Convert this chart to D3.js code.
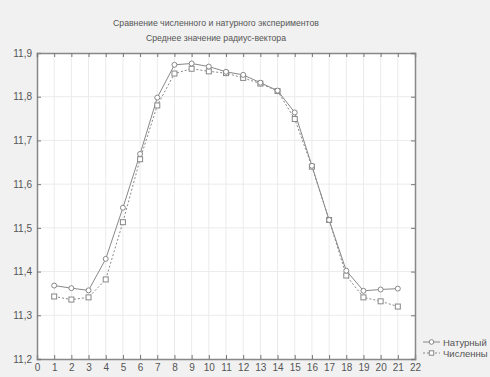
<!DOCTYPE html>
<head>
<meta charset="utf-8">
<style>
  body { margin: 0; background: #f1f1f1; }
  svg { display: block; font-family: Arial, "Liberation Sans", sans-serif; }
</style>
</head>
<body>
<div id="chart"></div>
<script src="https://cdnjs.cloudflare.com/ajax/libs/d3/7.8.5/d3.min.js"></script>
<script>
var xValues = [1, 2, 3, 4, 5, 6, 7, 8, 9, 10, 11, 12, 13, 14, 15, 16, 17, 18, 19, 20, 21];
var naturalValues = [11.368, 11.362, 11.357, 11.429, 11.546, 11.669, 11.798, 11.873, 11.876, 11.869,
  11.857, 11.850, 11.832, 11.814, 11.764, 11.642, 11.518, 11.402, 11.356, 11.359, 11.361];
var numericValues = [11.343, 11.336, 11.341, 11.382, 11.513, 11.657, 11.780, 11.853, 11.864, 11.858,
  11.854, 11.843, 11.830, 11.813, 11.749, 11.640, 11.518, 11.391, 11.341, 11.332, 11.320];
var xTicks = d3.range(0, 23);
var yTicks = [11.2, 11.3, 11.4, 11.5, 11.6, 11.7, 11.8, 11.9];
var titleLines = ['Сравнение численного и натурного экспериментов', 'Среднее значение радиус-вектора'];
var seriesNames = ['Натурный', 'Численны'];

var width = 490, height = 377;
var margin = {left: 37, right: 75, top: 53, bottom: 18};

var svg = d3.select('#chart').append('svg')
  .attr('width', width)
  .attr('height', height);

var x = d3.scaleLinear().domain([0, 22]).range([margin.left, width - margin.right]);
var y = d3.scaleLinear().domain([11.2, 11.9]).range([height - margin.bottom, margin.top]);

// plot background
svg.append('rect')
  .attr('x', x(0)).attr('y', y(11.9))
  .attr('width', x(22) - x(0)).attr('height', y(11.2) - y(11.9))
  .attr('fill', '#fff');

// grid
svg.append('g').selectAll('line').data(xTicks.slice(1, -1)).enter().append('line')
  .attr('x1', function(d) { return x(d); }).attr('x2', function(d) { return x(d); })
  .attr('y1', y(11.9)).attr('y2', y(11.2))
  .attr('stroke', '#ebebeb').attr('stroke-width', 1);
svg.append('g').selectAll('line').data(yTicks.slice(1, -1)).enter().append('line')
  .attr('x1', x(0)).attr('x2', x(22))
  .attr('y1', function(d) { return y(d); }).attr('y2', function(d) { return y(d); })
  .attr('stroke', '#ebebeb').attr('stroke-width', 1);

// axes
var bottomAxis = d3.axisBottom(x).tickValues(xTicks).tickSize(-4).tickPadding(5);
var leftAxis = d3.axisLeft(y).tickValues(yTicks).tickSize(-4).tickPadding(5)
  .tickFormat(function(d) { return d3.format('.1f')(d).replace('.', ','); });

var gx = svg.append('g').attr('transform', 'translate(0,' + y(11.2) + ')').call(bottomAxis);
var gy = svg.append('g').attr('transform', 'translate(' + x(0) + ',0)').call(leftAxis);
var gxTop = svg.append('g').attr('transform', 'translate(0,' + y(11.9) + ')')
  .call(d3.axisTop(x).tickValues(xTicks).tickSize(-4).tickFormat(''));
var gyRight = svg.append('g').attr('transform', 'translate(' + x(22) + ',0)')
  .call(d3.axisRight(y).tickValues(yTicks).tickSize(-4).tickFormat(''));

[gx, gy, gxTop, gyRight].forEach(function(g) {
  g.select('.domain').attr('stroke', '#888').attr('stroke-width', 1.5);
  g.selectAll('.tick line').attr('stroke', '#777');
  g.selectAll('.tick text').attr('fill', '#555').style('font-size', '10px');
});

// lines
var line = d3.line()
  .x(function(d) { return x(d[0]); })
  .y(function(d) { return y(d[1]); });

var natural = xValues.map(function(v, i) { return [v, naturalValues[i]]; });
var numeric = xValues.map(function(v, i) { return [v, numericValues[i]]; });

svg.append('path').datum(numeric)
  .attr('d', line).attr('fill', 'none')
  .attr('stroke', '#888').attr('stroke-width', 1).attr('stroke-dasharray', '2,2');
svg.append('path').datum(natural)
  .attr('d', line).attr('fill', 'none')
  .attr('stroke', '#888').attr('stroke-width', 1);

svg.append('g').selectAll('rect').data(numeric).enter().append('rect')
  .attr('x', function(d) { return x(d[0]) - 2.5; })
  .attr('y', function(d) { return y(d[1]) - 2.5; })
  .attr('width', 5).attr('height', 5)
  .attr('fill', '#fff').attr('stroke', '#888');
svg.append('g').selectAll('circle').data(natural).enter().append('circle')
  .attr('cx', function(d) { return x(d[0]); })
  .attr('cy', function(d) { return y(d[1]); })
  .attr('r', 2.5)
  .attr('fill', '#fff').attr('stroke', '#888');

// title
svg.append('g').selectAll('text').data(titleLines).enter().append('text')
  .attr('x', 216).attr('y', function(d, i) { return 26 + i * 15; })
  .attr('text-anchor', 'middle')
  .attr('fill', '#555').style('font-size', '8.7px')
  .text(function(d) { return d; });

// legend
var legend = svg.append('g').attr('transform', 'translate(423,342)');
legend.append('line').attr('x1', 0).attr('x2', 17).attr('y1', 0).attr('y2', 0).attr('stroke', '#888');
legend.append('circle').attr('cx', 8.5).attr('cy', 0).attr('r', 2.3).attr('fill', '#fff').attr('stroke', '#888');
legend.append('line').attr('x1', 0).attr('x2', 17).attr('y1', 11).attr('y2', 11)
  .attr('stroke', '#888').attr('stroke-dasharray', '2,2');
legend.append('rect').attr('x', 6.3).attr('y', 8.8).attr('width', 4.4).attr('height', 4.4)
  .attr('fill', '#fff').attr('stroke', '#888');
legend.selectAll('text').data(seriesNames).enter().append('text')
  .attr('x', 20).attr('y', function(d, i) { return i * 11 + 3.5; })
  .attr('fill', '#555').style('font-size', '9.5px')
  .text(function(d) { return d; });
</script>
</body>
</html>
